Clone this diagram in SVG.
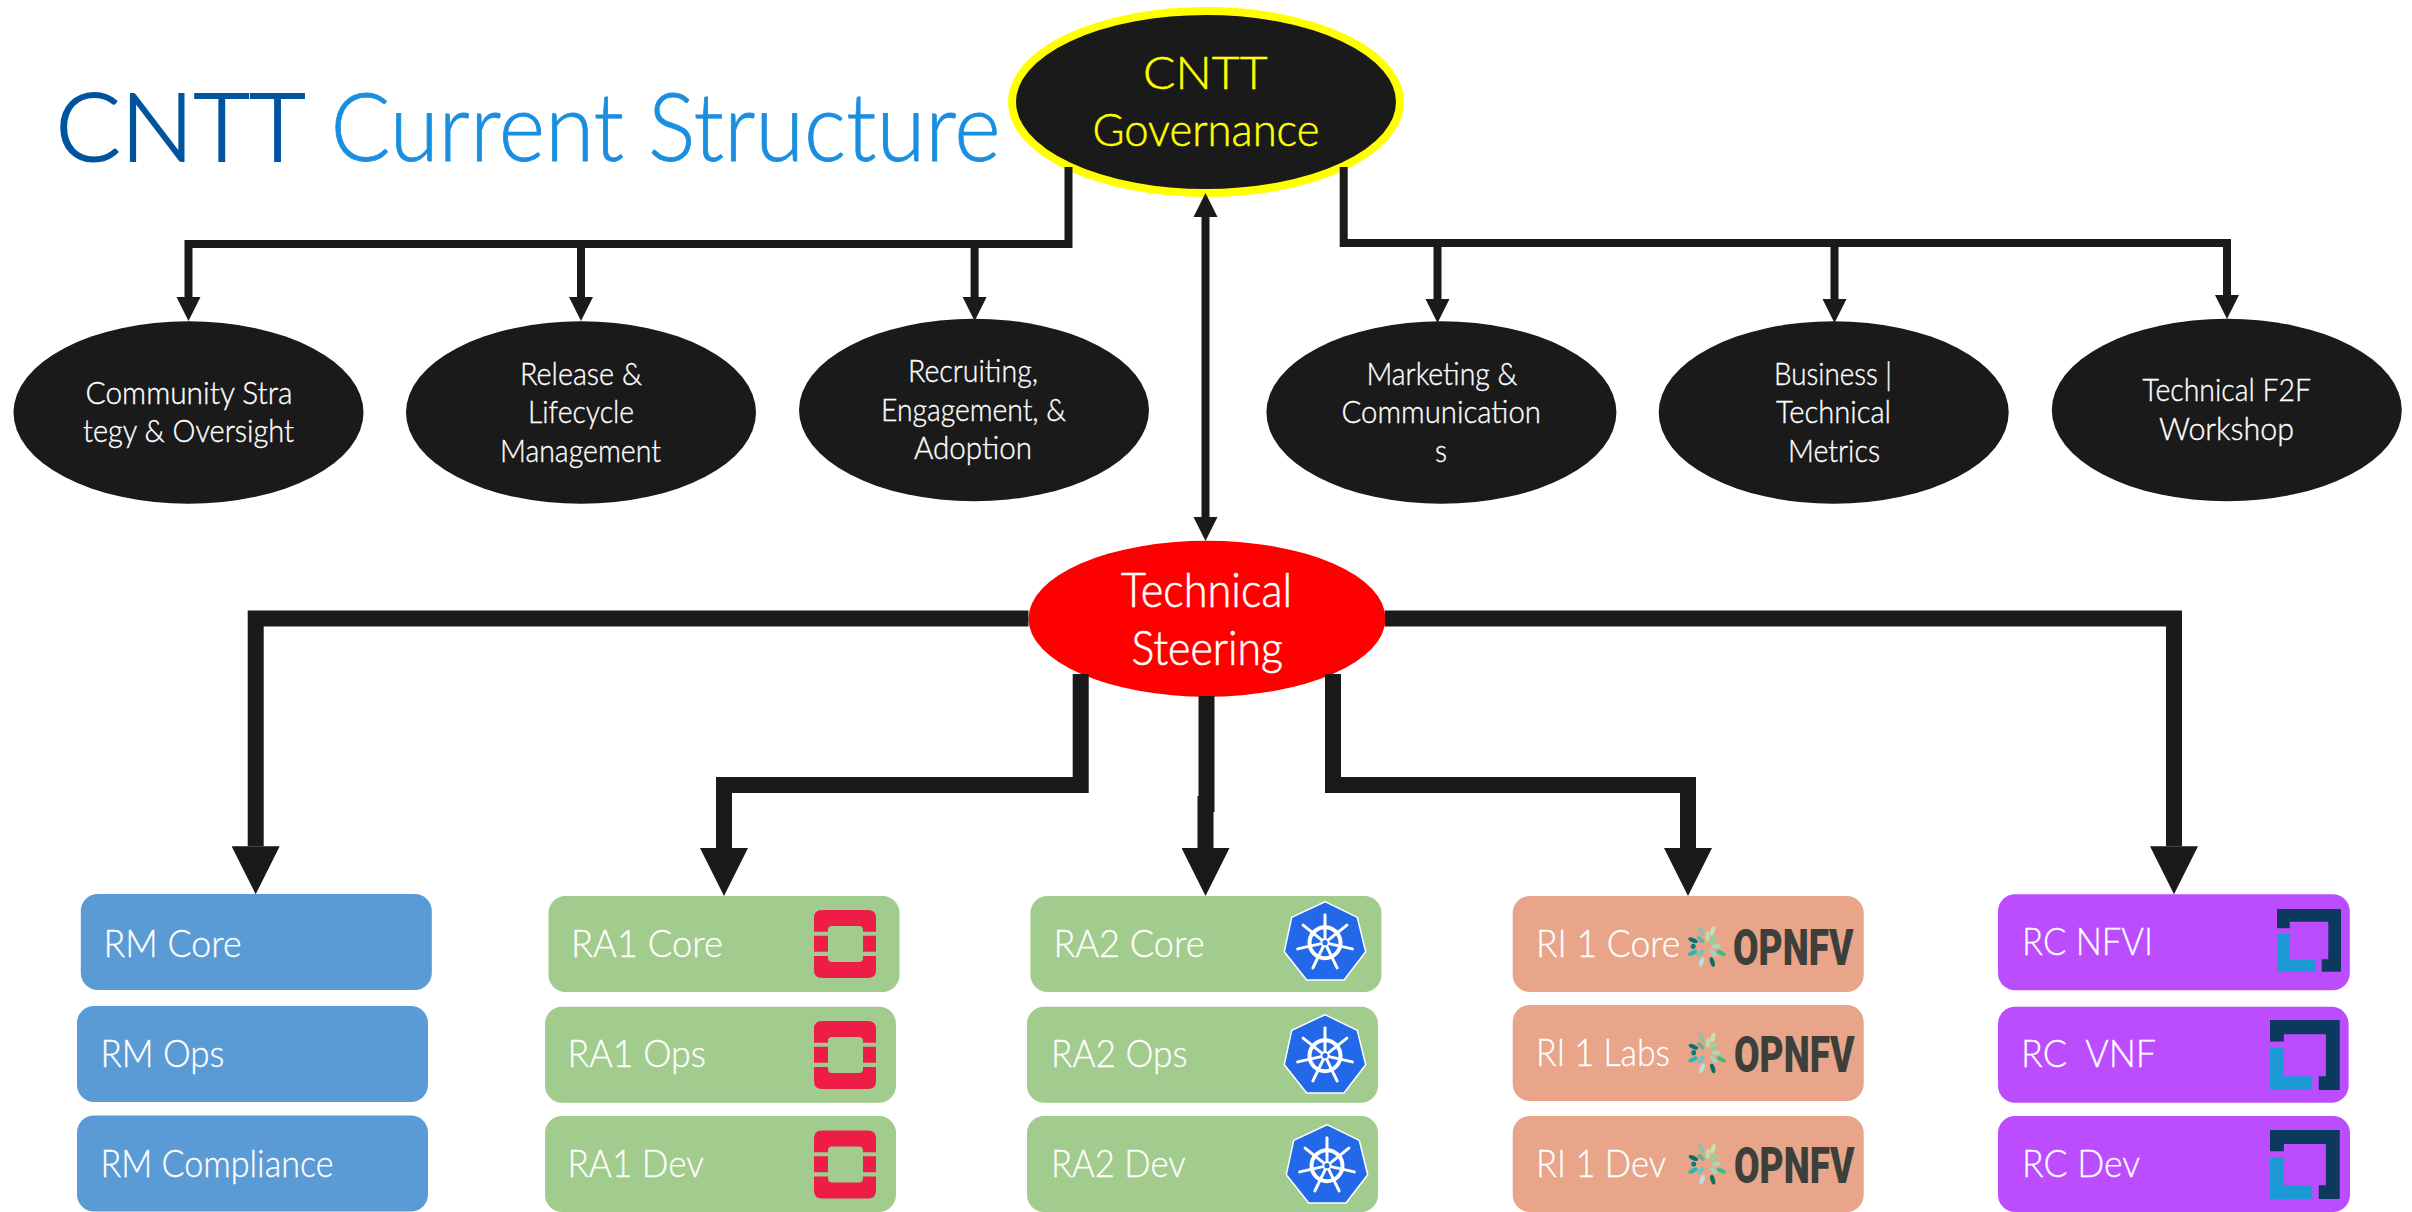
<svg xmlns="http://www.w3.org/2000/svg" width="2412" height="1212" viewBox="0 0 2412 1212">
<style>
text{font-family:"Lato","Noto Sans",sans-serif;font-weight:300;white-space:pre}
.t{font-size:31px;fill:#fff;stroke:#fff;stroke-width:.35}
.b{font-size:37px;fill:#fff;stroke:#fff;stroke-width:.3}
.g{font-size:46px;fill:#ffff00;stroke:#ffff00;stroke-width:.5}
.s{font-size:47px;fill:#fff;stroke:#fff;stroke-width:.6}
.title{font-size:95px}
.op{font-family:"Roboto",sans-serif;font-weight:900;font-size:50px;fill:#3c3f3a;stroke:none}
.oval{fill:#1a1a1a}
.thin{fill:none;stroke:#1a1a1a;stroke-width:8}
.thick{fill:none;stroke:#1a1a1a;stroke-width:16}
.blue{fill:#5b9bd5}.green{fill:#a2cb8e}.orange{fill:#e8a589}.purple{fill:#bb4dff}
</style>
<defs>
<marker id="h1" markerUnits="userSpaceOnUse" markerWidth="24" markerHeight="26" refX="0" refY="12" orient="auto"><path d="M0 0L24 12L0 24Z" fill="#1a1a1a"/></marker>
<marker id="h1s" markerUnits="userSpaceOnUse" markerWidth="24" markerHeight="26" refX="24" refY="12" orient="auto"><path d="M24 0L0 12L24 24Z" fill="#1a1a1a"/></marker>
<marker id="h2" markerUnits="userSpaceOnUse" markerWidth="48" markerHeight="48" refX="0" refY="24" orient="auto"><path d="M0 0L48 24L0 48Z" fill="#1a1a1a"/></marker>
<g id="ostack">
<path fill-rule="evenodd" fill="#ed1d47" d="M8 0H54Q62 0 62 8V60Q62 68 54 68H8Q0 68 0 60V8Q0 0 8 0ZM18 16Q14 16 14 20V48Q14 52 18 52H45Q49 52 49 48V20Q49 16 45 16Z"/>
<path fill="#a2cb8e" d="M0 21.7H14V25.7H0ZM49 21.7H62V25.7H49ZM0 41.7H14V46H0ZM49 41.7H62V46H49Z"/>
</g>
<g id="k8s">
<path d="M0-41L32.3-25.3L40.7 9L19 37.3H-18.3L-40.7 9L-33.3-25.3Z" fill="#2368e8" stroke="#fff" stroke-width="1.5" stroke-linejoin="round"/>
<circle r="15.5" fill="none" stroke="#fff" stroke-width="4"/>
<g stroke="#fff" stroke-width="3" stroke-linecap="round">
<path d="M0-4V-28M3.1-2.5L21.9-17.5M3.9 .9L27.3 6.2M1.7 3.6L12.1 25.2M-1.7 3.6L-12.1 25.2M-3.9 .9L-27.3 6.2M-3.1-2.5L-21.9-17.5"/>
</g>
<circle r="4.5" fill="#fff"/><circle r="2.6" fill="#2368e8"/>
</g>
<g id="flower">
<ellipse cx="-6.3" cy="-15.3" rx="2.2" ry="5" fill="#8fbfae" transform="rotate(-22 -6.3 -15.3)"/>
<ellipse cx="5.3" cy="-15.3" rx="2.2" ry="5" fill="#c5e2b4" transform="rotate(19 5.3 -15.3)"/>
<ellipse cx="-14.3" cy="-6" rx="2.2" ry="5" fill="#0e6e6e" transform="rotate(-67 -14.3 -6)"/>
<ellipse cx=".3" cy="-10" rx="2.2" ry="5" fill="#b5e0a8" transform="rotate(2 .3 -10)"/>
<ellipse cx="-6.7" cy="-6.7" rx="2.2" ry="4.5" fill="#6fae9f" transform="rotate(-45 -6.7 -6.7)"/>
<ellipse cx="6" cy="-6.7" rx="2.2" ry="4.5" fill="#8fd49a" transform="rotate(42 6 -6.7)"/>
<ellipse cx="8.7" cy="0" rx="2.4" ry="4.5" fill="#a8d8b8" transform="rotate(90 8.7 0)"/>
<ellipse cx="-14" cy="0" rx="2.4" ry="2.6" fill="#0a7a7a"/>
<ellipse cx="-14.7" cy="6.7" rx="2.2" ry="5" fill="#2bb5b5" transform="rotate(-115 -14.7 6.7)"/>
<ellipse cx="-6.7" cy="6.7" rx="2.2" ry="4.5" fill="#66c8c8" transform="rotate(-135 -6.7 6.7)"/>
<ellipse cx="6" cy="6.7" rx="2.2" ry="4.5" fill="#a8d0c0" transform="rotate(138 6 6.7)"/>
<ellipse cx="13.7" cy="6.7" rx="2.2" ry="5" fill="#3fbf7f" transform="rotate(116 13.7 6.7)"/>
<ellipse cx="-5.7" cy="15.7" rx="2.2" ry="5" fill="#b8e0e0" transform="rotate(-160 -5.7 15.7)"/>
<ellipse cx="5" cy="15.7" rx="2.2" ry="5" fill="#0e6e5e" transform="rotate(162 5 15.7)"/>
</g>
<g id="cube">
<path fill="#0b3a5e" d="M0 0H64V62.7H44.7V50.3H51.3V12.7H12.7V19.3H0Z"/>
<path fill="#1b9ad6" d="M0 25H12.7V50.3H38.7V62.7H0Z"/>
</g>
</defs>

<g id="title">
<text class="title" x="55.5" y="161" fill="#00549f" stroke="#00549f" stroke-width="1.8" textLength="250" lengthAdjust="spacingAndGlyphs">CNTT</text>
<text class="title" x="330.5" y="161" fill="#1a8fe0" stroke="#1a8fe0" stroke-width=".8" textLength="670" lengthAdjust="spacingAndGlyphs">Current Structure</text>
</g>

<g id="nodes-top">
<g id="gov"><ellipse cx="1206" cy="102" rx="194" ry="91" fill="#1a1a1a" stroke="#ffff00" stroke-width="8"/>
<text class="g" x="1143" y="89" textLength="124.5" lengthAdjust="spacingAndGlyphs">CNTT</text>
<text class="g" x="1092.5" y="146" textLength="227" lengthAdjust="spacingAndGlyphs">Governance</text></g>
<g id="n-community"><ellipse class="oval" cx="188.5" cy="412.5" rx="175" ry="91.3"/>
<text class="t" x="85.5" y="404" textLength="207" lengthAdjust="spacingAndGlyphs">Community Stra</text>
<text class="t" x="83" y="442" textLength="211" lengthAdjust="spacingAndGlyphs">tegy &amp; Oversight</text></g>
<g id="n-release"><ellipse class="oval" cx="581" cy="412.5" rx="175" ry="91.3"/>
<text class="t" x="520" y="385" textLength="122" lengthAdjust="spacingAndGlyphs">Release &amp;</text>
<text class="t" x="528" y="423" textLength="106" lengthAdjust="spacingAndGlyphs">Lifecycle</text>
<text class="t" x="500" y="461.7" textLength="161" lengthAdjust="spacingAndGlyphs">Management</text></g>
<g id="n-recruiting"><ellipse class="oval" cx="974" cy="410" rx="175" ry="91.3"/>
<text class="t" x="908" y="382" textLength="130" lengthAdjust="spacingAndGlyphs">Recruiting,</text>
<text class="t" x="881" y="421" textLength="185" lengthAdjust="spacingAndGlyphs">Engagement, &amp;</text>
<text class="t" x="914" y="459" textLength="118" lengthAdjust="spacingAndGlyphs">Adoption</text></g>
<g id="n-marketing"><ellipse class="oval" cx="1441.4" cy="412.5" rx="175" ry="91.3"/>
<text class="t" x="1366.5" y="385" textLength="151" lengthAdjust="spacingAndGlyphs">Marketing &amp;</text>
<text class="t" x="1341.5" y="423" textLength="199.5" lengthAdjust="spacingAndGlyphs">Communication</text>
<text class="t" x="1435" y="461.7" textLength="12" lengthAdjust="spacingAndGlyphs">s</text></g>
<g id="n-business"><ellipse class="oval" cx="1833.7" cy="412.5" rx="175" ry="91.3"/>
<text class="t" x="1774" y="385" textLength="118" lengthAdjust="spacingAndGlyphs">Business |</text>
<text class="t" x="1776" y="423" textLength="115" lengthAdjust="spacingAndGlyphs">Technical</text>
<text class="t" x="1788" y="461.7" textLength="92" lengthAdjust="spacingAndGlyphs">Metrics</text></g>
<g id="n-f2f"><ellipse class="oval" cx="2226.8" cy="410" rx="175" ry="91.3"/>
<text class="t" x="2142.5" y="401" textLength="168.5" lengthAdjust="spacingAndGlyphs">Technical F2F</text>
<text class="t" x="2159" y="440" textLength="135" lengthAdjust="spacingAndGlyphs">Workshop</text></g>
<g id="steering"><ellipse cx="1207" cy="618.7" rx="178.5" ry="78" fill="#ff0000"/>
<text class="s" x="1121" y="606.7" textLength="171" lengthAdjust="spacingAndGlyphs">Technical</text>
<text class="s" x="1131.5" y="665" textLength="151.5" lengthAdjust="spacingAndGlyphs">Steering</text></g>
</g>

<g id="connectors">
<path class="thin" d="M1068.5 167V244H188.5V297" marker-end="url(#h1)"/>
<path class="thin" d="M581 244V297" marker-end="url(#h1)"/>
<path class="thin" d="M974.6 244V297" marker-end="url(#h1)"/>
<path class="thin" d="M1343.7 167V243H2227V295" marker-end="url(#h1)"/>
<path class="thin" d="M1437.5 243V299" marker-end="url(#h1)"/>
<path class="thin" d="M1834.5 243V299" marker-end="url(#h1)"/>
<path class="thin" d="M1205.5 217V517" marker-start="url(#h1s)" marker-end="url(#h1)"/>
<path class="thick" d="M1028.5 618.5H255.7V846.3" marker-end="url(#h2)"/>
<path class="thick" d="M1385 618.5H2174V846.3" marker-end="url(#h2)"/>
<path class="thick" d="M1080.7 674V785H724V848" marker-end="url(#h2)"/>
<path class="thick" d="M1206.5 696V804H1205.5V848" marker-end="url(#h2)"/>
<path class="thick" d="M1333 674V785H1688V848" marker-end="url(#h2)"/>
</g>

<g id="nodes-bottom">
<g id="rm-core"><rect class="blue" x="80.8" y="894" width="351" height="96" rx="17"/><text class="b" x="103.6" y="957" textLength="138" lengthAdjust="spacingAndGlyphs">RM Core</text></g>
<g id="rm-ops"><rect class="blue" x="77" y="1006" width="351" height="96" rx="17"/><text class="b" x="100.5" y="1067" textLength="124" lengthAdjust="spacingAndGlyphs">RM Ops</text></g>
<g id="rm-compliance"><rect class="blue" x="77" y="1115.5" width="351" height="96" rx="17"/><text class="b" x="100.5" y="1177" textLength="233" lengthAdjust="spacingAndGlyphs">RM Compliance</text></g>

<g id="ra1-core"><rect class="green" x="548.5" y="896" width="351" height="96" rx="17"/><text class="b" x="571" y="957" textLength="152" lengthAdjust="spacingAndGlyphs">RA1 Core</text><use href="#ostack" x="814" y="910"/></g>
<g id="ra1-ops"><rect class="green" x="545" y="1006.7" width="351" height="96" rx="17"/><text class="b" x="567.5" y="1067" textLength="138.5" lengthAdjust="spacingAndGlyphs">RA1 Ops</text><use href="#ostack" x="814" y="1021"/></g>
<g id="ra1-dev"><rect class="green" x="545" y="1116" width="351" height="96" rx="17"/><text class="b" x="567.5" y="1177" textLength="136.5" lengthAdjust="spacingAndGlyphs">RA1 Dev</text><use href="#ostack" x="814" y="1130.5"/></g>

<g id="ra2-core"><rect class="green" x="1030.4" y="896" width="351" height="96" rx="17"/><text class="b" x="1053.5" y="957" textLength="151" lengthAdjust="spacingAndGlyphs">RA2 Core</text><use href="#k8s" x="1325" y="942.7"/></g>
<g id="ra2-ops"><rect class="green" x="1027" y="1006.7" width="351" height="96" rx="17"/><text class="b" x="1051" y="1067" textLength="136.5" lengthAdjust="spacingAndGlyphs">RA2 Ops</text><use href="#k8s" x="1325" y="1055.7"/></g>
<g id="ra2-dev"><rect class="green" x="1027" y="1116" width="351" height="96" rx="17"/><text class="b" x="1051" y="1177.3" textLength="134.7" lengthAdjust="spacingAndGlyphs">RA2 Dev</text><use href="#k8s" x="1327" y="1165.7"/></g>

<g id="ri-core"><rect class="orange" x="1512.7" y="896" width="351" height="96" rx="17"/><text class="b" x="1536" y="956.7" textLength="144.4" lengthAdjust="spacingAndGlyphs">RI 1 Core</text><use href="#flower" x="1707.3" y="946.3"/><text class="op" x="1733" y="965" textLength="120.5" lengthAdjust="spacingAndGlyphs">OPNFV</text></g>
<g id="ri-labs"><rect class="orange" x="1512.7" y="1005" width="351" height="96" rx="17"/><text class="b" x="1536" y="1065.7" textLength="134" lengthAdjust="spacingAndGlyphs">RI 1 Labs</text><use href="#flower" x="1707.7" y="1052.7"/><text class="op" x="1734" y="1071.7" textLength="120.5" lengthAdjust="spacingAndGlyphs">OPNFV</text></g>
<g id="ri-dev"><rect class="orange" x="1512.7" y="1116" width="351" height="96" rx="17"/><text class="b" x="1536" y="1176.7" textLength="130" lengthAdjust="spacingAndGlyphs">RI 1 Dev</text><use href="#flower" x="1707.7" y="1164"/><text class="op" x="1734" y="1182.7" textLength="120.5" lengthAdjust="spacingAndGlyphs">OPNFV</text></g>

<g id="rc-nfvi"><rect class="purple" x="1998" y="894.3" width="351.8" height="96" rx="17"/><text class="b" x="2022" y="955" textLength="131" lengthAdjust="spacingAndGlyphs">RC NFVI</text><use href="#cube" transform="translate(2277 909)"/></g>
<g id="rc-vnf"><rect class="purple" x="1998" y="1006.7" width="350.6" height="96" rx="17"/><text class="b" x="2021" y="1067" textLength="135" lengthAdjust="spacingAndGlyphs">RC  VNF</text><use href="#cube" transform="translate(2270 1020) scale(1.09 1.116)"/></g>
<g id="rc-dev"><rect class="purple" x="1998" y="1116" width="352" height="96" rx="17"/><text class="b" x="2022" y="1176.7" textLength="118" lengthAdjust="spacingAndGlyphs">RC Dev</text><use href="#cube" transform="translate(2270 1130) scale(1.09 1.1)"/></g>
</g>
</svg>
